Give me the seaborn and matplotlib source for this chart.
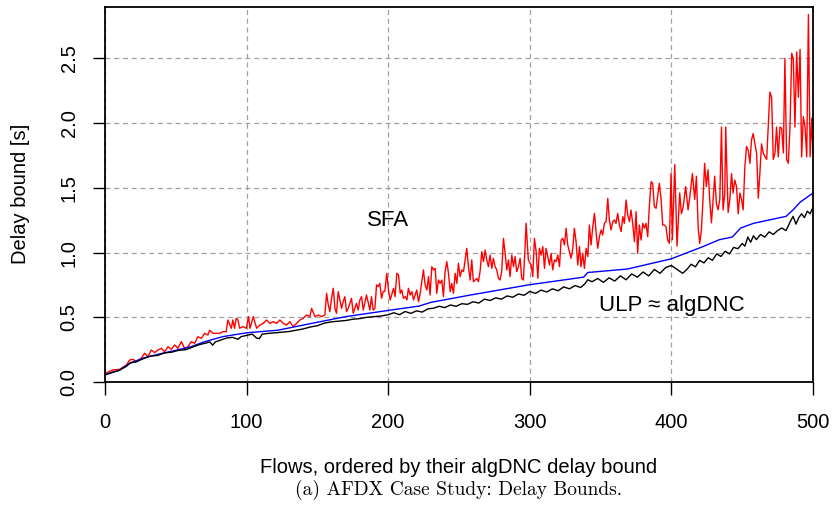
import matplotlib
matplotlib.use("Agg")
import matplotlib.pyplot as plt
import seaborn as sns
import pandas as pd

# ---------------- data ----------------
sfa_x = [0, 5.6, 10.4, 15.1, 17.4, 19.8, 22.1, 25.6, 28, 30.4, 32.7, 35.1, 37.4, 39.8, 42.1, 44.5,
         46.8, 49.2, 51.5, 53.9, 56.2, 58.6, 60.9, 63.3, 65.6, 68, 70.4, 72.7, 73.9, 76.2, 78.6,
         80.9, 83.3, 85.6, 86.8, 89.2, 90.3, 91.5, 92.7, 93.9, 95.1, 97.4, 99.8, 101.4,
         102.4, 104.7, 107.1, 109.4, 111.8, 114.1, 116.5, 118.8, 121.2, 123.5, 125.9, 128.2,
         130.6, 132.9, 135.3, 137.6, 140, 142.4, 144.7, 145.9, 148.3, 150.6, 153, 155.3, 156.5,
         157.7, 158.8, 160, 161.2, 162.4, 163.5, 164.7, 167.1, 168.2, 169.4, 170.6, 171.8, 174.1,
         175.3, 177.6, 178.8, 180, 181.2, 182.4, 184.7, 187.1, 188.2, 189.4, 190.6, 191.8, 192.9,
         194.1, 195.3, 196.5, 197.6, 199,
         200.2, 201.4, 203.8, 204.9, 206.1, 207.3, 208.5, 209.6, 210.8, 212, 213.2, 214.3, 215.5,
         216.7, 217.9, 220.2, 221.4, 222.6, 224.9, 226.1, 227.3, 228.5, 229.6, 230.8, 232, 233.2,
         234.3, 235.5, 236.7, 237.9, 239, 240.2, 241.4, 242.6, 243.8, 244.9, 246.1, 247.3, 248.5,
         249.6, 250.8, 252, 253.2, 255.5, 256.7, 257.9, 259, 260.2, 262.6, 263.7, 264.9, 266.1,
         267.3, 268.5, 269.6, 270.8, 272, 273.2, 274.3, 275.5, 276.7, 277.9, 279, 280.2, 281.4,
         282.6, 283.8, 284.9, 286.1, 287.3, 288.5, 289.6, 290.8, 292, 293.2, 294.3, 295.5, 296.7,
         297.4, 299,
         301, 302.1, 303.3, 304.5, 305.7, 306.8, 308, 309.2, 310.4, 311.5, 312.7, 313.9, 315.1,
         316.2, 317.4, 318.6, 319.8, 321, 322.1, 323.3, 324.5, 325.7, 326.8, 328, 329.2, 330.4,
         331.5, 332.7, 333.9, 335.1, 336.2, 337.4, 338.6, 339.8, 341, 342.1, 343.3, 344.5, 345.7,
         346.8, 348, 349.2, 350.4, 351.5, 352.7, 353.9, 355.1, 356.2, 357.4, 358.6, 359.8, 360.9,
         362.1, 363.3, 364.5, 365.7, 366.8, 368, 369.2, 370.4, 371.5, 372.7, 373.9, 375.1, 376.2,
         377.4, 378.6, 379.8, 381, 382.1, 383.3, 384.5, 385.7, 386.8, 388, 389.2, 390.4, 391.5,
         392.7, 393.9, 395.1, 396.2, 397.4, 398.6, 399.8,
         400.7, 402.4, 404, 405.9, 407.1, 408.3, 410.1, 411.8, 413, 414.9, 416.5, 417.7, 418.9,
         420, 421.2, 422.4, 423.5, 424.7, 425.9, 427.1, 428.3, 429.5, 430.6, 431.8, 433, 434.2,
         435.4, 436.5, 437.7, 438.4, 439.4, 440.1, 441.3, 442.5, 443.6, 444.8, 446, 447.2, 448.4,
         449.6, 450.7, 451.9, 453.1, 454.3, 455.5, 456.6, 457.8, 459, 460.2, 461.4, 462.5, 463.7,
         464.9, 466.1, 467.3, 468.4, 469.6, 470.8, 472, 473.2, 474.3, 475.5, 476.7, 477.9, 479.1,
         480.2, 481.4, 482.6, 483.8, 485, 486.1, 487.3, 488.5, 489.7, 490.9, 492, 493.2, 494.4,
         495.6, 496.8, 498, 499.2, 500]
sfa_y = [0.065, 0.093, 0.098, 0.131, 0.17, 0.175, 0.157, 0.183, 0.222, 0.196, 0.247, 0.227, 0.247,
         0.26, 0.234, 0.273, 0.252, 0.286, 0.26, 0.312, 0.26, 0.273, 0.312, 0.299, 0.35, 0.337,
         0.376, 0.363, 0.40, 0.376, 0.376, 0.376, 0.389, 0.389, 0.479, 0.415, 0.479, 0.415, 0.492,
         0.479, 0.415, 0.428, 0.415, 0.505,
         0.415, 0.505, 0.415, 0.44, 0.453, 0.479, 0.453, 0.466, 0.453, 0.479, 0.453, 0.44, 0.466,
         0.428, 0.453, 0.479, 0.492, 0.518, 0.505, 0.569, 0.505, 0.518, 0.505, 0.518, 0.685, 0.595,
         0.544, 0.647, 0.724, 0.569, 0.531, 0.698, 0.569, 0.621, 0.659, 0.544, 0.569, 0.647, 0.531,
         0.608, 0.556, 0.634, 0.659, 0.556, 0.672, 0.556, 0.659, 0.556, 0.569, 0.75, 0.737, 0.762,
         0.647, 0.70, 0.70, 0.84,
         0.711, 0.634, 0.724, 0.66, 0.84, 0.827, 0.685, 0.711, 0.647, 0.66, 0.634, 0.724, 0.672,
         0.698, 0.634, 0.711, 0.621, 0.685, 0.866, 0.75, 0.711, 0.814, 0.672, 0.891, 0.866, 0.878,
         0.685, 0.788, 0.762, 0.788, 0.66, 0.853, 0.93, 0.84, 0.698, 0.762, 0.685, 0.84, 0.762,
         0.917, 0.814, 0.866, 0.853, 1.033, 0.891, 0.788, 0.943, 0.775, 0.801, 0.775, 0.853, 1.007,
         0.93, 1.02, 0.943, 0.891, 0.981, 0.878, 0.956, 0.891, 0.866, 0.801, 0.788, 0.853, 1.11,
         0.994, 0.866, 0.943, 0.814, 0.981, 0.891, 0.969, 0.853, 0.891, 0.956, 0.801, 0.788, 1.046,
         1.226, 0.943,
         0.904, 0.814, 1.11, 1.007, 0.801, 1.033, 0.981, 1.046, 0.878, 1.033, 0.969, 0.904, 0.994,
         0.866, 0.943, 0.93, 0.981, 0.891, 1.097, 1.11, 1.059, 1.188, 1.059, 1.007, 0.956, 1.033,
         1.188, 1.085, 0.904, 1.046, 0.891, 0.994, 0.878, 1.033, 0.969, 1.213, 1.059, 1.20, 1.303,
         1.162, 1.033, 1.123, 1.175, 1.136, 1.226, 1.239, 1.419, 1.252, 1.175, 1.239, 1.252, 1.226,
         1.303, 1.213, 1.162, 1.278, 1.226, 1.406, 1.29, 1.239, 1.329, 1.226, 1.085, 1.316, 0.994,
         1.213, 1.097, 1.226, 1.188, 1.226, 1.123, 1.368, 1.548, 1.535, 1.355, 1.342, 1.445, 1.535,
         1.419, 1.213, 1.213, 1.20, 1.097, 1.072, 1.613,
         1.10, 1.68, 1.05, 1.46, 1.30, 1.35, 1.51, 1.33, 1.43, 1.61, 1.41, 1.59, 1.20,
         1.07, 1.17, 1.42, 1.69, 1.51, 1.64, 1.41, 1.23, 1.41, 1.59, 1.38, 1.33, 1.41,
         1.97, 1.33, 1.45, 1.97, 1.56, 1.31, 1.41, 1.61, 1.46, 1.56, 1.51, 1.30, 1.46,
         1.41, 1.33, 1.66, 1.82, 1.79, 1.69, 1.87, 1.92, 1.84, 1.77, 1.42, 1.61, 1.84,
         1.77, 1.74, 1.72, 1.97, 2.24, 2.20, 1.72, 1.77, 1.97, 1.74, 1.97, 1.96, 1.77,
         2.50, 1.72, 1.69, 1.97, 2.54, 2.50, 1.97, 2.55, 2.20, 2.57, 1.74, 2.05, 1.97,
         1.74, 2.84, 1.74, 2.04, 1.77]

ulp_x = [0, 10, 17, 20, 27, 36, 46, 60, 70, 83, 93, 100, 122, 146, 170, 200, 222, 230, 258, 300,
         338, 341, 369, 400, 422, 434, 443, 449, 458, 481, 486, 491, 500]
ulp_y = [0.055, 0.09, 0.14, 0.155, 0.185, 0.21, 0.235, 0.27, 0.31, 0.35, 0.368, 0.38, 0.40, 0.453,
         0.505, 0.553, 0.587, 0.615, 0.672, 0.752, 0.81, 0.846, 0.873, 0.952, 1.045, 1.10, 1.12,
         1.19, 1.226, 1.28, 1.33, 1.39, 1.46]

alg_x = [0, 5, 10, 15, 18, 22, 27, 32, 37, 42, 47, 52, 57, 62, 67, 71, 74, 76, 78, 82, 86, 90, 94,
         96, 100, 104, 107, 109, 111, 115, 120, 125, 130, 135, 140, 145, 150, 155, 160, 165, 170,
         175, 180, 185, 190, 195,
         200, 204, 208, 212, 216, 220, 224, 228, 232, 236, 240, 244, 248, 252, 256, 260, 264, 268,
         272, 276, 280, 284, 288, 292, 296, 300, 304, 308, 312, 316, 320, 324, 328, 332, 336, 339,
         341, 344, 348, 352, 356, 360, 364, 368, 372, 376, 380, 384, 388, 392, 396, 400, 404, 408,
         411, 414, 417, 420, 423, 426, 429, 432, 435, 438, 441, 444, 447, 450, 452, 454, 456, 458,
         460, 463, 466, 469, 472, 475, 478, 481, 484, 486, 488, 490, 492, 494, 496, 498, 500]
alg_y = [0.055, 0.075, 0.09, 0.12, 0.15, 0.155, 0.18, 0.20, 0.205, 0.225, 0.23, 0.245, 0.25, 0.27,
         0.29, 0.30, 0.31, 0.285, 0.31, 0.325, 0.34, 0.345, 0.33, 0.35, 0.36, 0.37, 0.34, 0.335,
         0.37, 0.375, 0.38, 0.385, 0.39, 0.40, 0.41, 0.425, 0.435, 0.455, 0.465, 0.47, 0.475, 0.485,
         0.49, 0.50, 0.505, 0.51,
         0.52, 0.535, 0.52, 0.545, 0.53, 0.55, 0.54, 0.565, 0.57, 0.585, 0.575, 0.595, 0.585, 0.605,
         0.60, 0.62, 0.61, 0.64, 0.63, 0.65, 0.64, 0.665, 0.655, 0.68, 0.67, 0.70, 0.685, 0.71,
         0.695, 0.72, 0.705, 0.735, 0.72, 0.745, 0.73, 0.76, 0.79, 0.775, 0.80, 0.77, 0.805, 0.78,
         0.82, 0.79, 0.835, 0.81, 0.85, 0.82, 0.87, 0.84, 0.885, 0.90, 0.87, 0.84, 0.87, 0.91, 0.89,
         0.94, 0.92, 0.96, 0.94, 0.99, 0.97, 1.01, 0.99, 1.04, 1.03, 1.07, 1.05, 1.12, 1.08, 1.13,
         1.10, 1.14, 1.12, 1.16, 1.14, 1.17, 1.19, 1.17, 1.24, 1.28, 1.22, 1.27, 1.30, 1.27, 1.32,
         1.30, 1.35]

x_ticks = [0, 100, 200, 300, 400, 500]
y_ticks = [0.0, 0.5, 1.0, 1.5, 2.0, 2.5]
y_tick_labels = ["0.0", "0.5", "1.0", "1.5", "2.0", "2.5"]

# ---------------- figure ----------------
sns.set_style("white")
plt.rcParams["font.family"] = ["Liberation Sans", "DejaVu Sans"]
plt.rcParams["text.color"] = "black"
plt.rcParams["axes.labelcolor"] = "black"
plt.rcParams["xtick.color"] = "black"
plt.rcParams["ytick.color"] = "black"

df = pd.concat([
    pd.DataFrame({"flow": sfa_x, "delay": sfa_y, "method": "SFA"}),
    pd.DataFrame({"flow": ulp_x, "delay": ulp_y, "method": "ULP"}),
    pd.DataFrame({"flow": alg_x, "delay": alg_y, "method": "algDNC"}),
], ignore_index=True)

fig = plt.figure(figsize=(8.32, 5.2), dpi=100)
ax = fig.add_axes([0.1262, 0.2654, 0.8509, 0.7217])

sns.lineplot(data=df, x="flow", y="delay", hue="method",
             hue_order=["SFA", "ULP", "algDNC"],
             palette={"SFA": "#ff0000", "ULP": "#0000ff", "algDNC": "#000000"},
             estimator=None, sort=False, legend=False, linewidth=1.0, ax=ax)

ax.set_xlim(0, 500)
ax.set_ylim(0, 2.9)
ax.set_xticks(x_ticks)
ax.set_yticks(y_ticks)
ax.set_yticklabels(y_tick_labels, rotation=90, va="center")

ax.grid(True, color="#a0a0a0", linestyle=(0, (4, 3)), linewidth=0.9)
ax.set_axisbelow(True)
for s in ax.spines.values():
    s.set_visible(True)
    s.set_color("black")
    s.set_linewidth(1.3)

ax.tick_params(axis="both", direction="out", length=9, width=1.0, colors="black",
               labelsize=14.5, bottom=True, left=True)
ax.tick_params(axis="x", pad=13)
ax.tick_params(axis="y", pad=10)

ax.set_xlabel("Flows, ordered by their algDNC delay bound", fontsize=14.5, color="black")
ax.set_ylabel("Delay bound [s]", fontsize=14.5, color="black")
ax.xaxis.set_label_coords(0.5, -0.203)
ax.yaxis.set_label_coords(-0.106, 0.5)

ax.text(200, 1.25, "SFA", fontsize=16, ha="center", va="center", color="black")
ax.text(400, 0.59, "ULP \u2248 algDNC", fontsize=16, ha="center", va="center", color="black")

fig.text(0.551, 0.057, "(a) AFDX Case Study: Delay Bounds.", family=["cmr10", "DejaVu Serif"],
         fontsize=14, ha="center", va="center", color="black")

fig.savefig("out.png", dpi=100)
